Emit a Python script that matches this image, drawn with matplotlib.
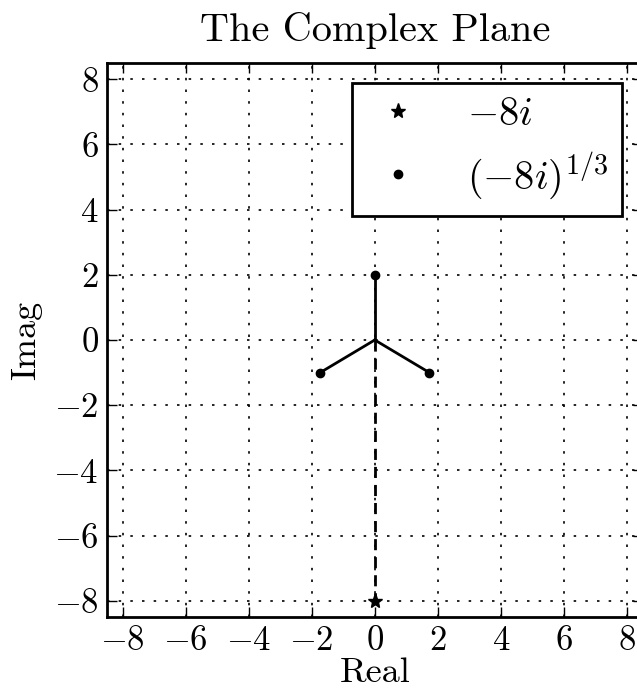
import numpy as np
import matplotlib
matplotlib.use('Agg')
import matplotlib.pyplot as plt

# data
z = -8j
roots_re = [0.0, -np.sqrt(3), np.sqrt(3)]
roots_im = [2.0, -1.0, -1.0]
ticks = [-8, -6, -4, -2, 0, 2, 4, 6, 8]

plt.rcParams['font.family'] = 'serif'
plt.rcParams['font.serif'] = ['cmr10']
plt.rcParams['mathtext.fontset'] = 'cm'
plt.rcParams['axes.formatter.use_mathtext'] = True
plt.rcParams['axes.unicode_minus'] = True

fig = plt.figure(figsize=(6.37, 6.92), dpi=100)
ax = fig.add_axes([0.168, 0.1084, 0.8407, 0.8006])

# lines from origin to each root
for xr, yr in zip(roots_re, roots_im):
    ax.plot([0, xr], [0, yr], color='k', lw=2, zorder=3)
ax.plot([0, z.real], [0, z.imag], color='k', lw=2, ls=(0, (4, 2.5)), zorder=3)

ax.plot([z.real], [z.imag], '*', color='k', ms=11, label=r'$-8i$', zorder=4)
ax.plot(roots_re, roots_im, 'o', color='k', ms=6, label=r'$(-8i)^{1/3}$', zorder=4)

ax.set_xlim(-8.5, 8.5)
ax.set_ylim(-8.5, 8.5)
ax.set_xticks(ticks)
ax.set_yticks(ticks)
ax.grid(True, color='k', ls=(0, (1.5, 5.5)), lw=1.2)
ax.tick_params(direction='in', top=True, right=True, length=7, width=1,
               labelsize=25, pad=6)
for s in ax.spines.values():
    s.set_linewidth(2)

ax.set_title('The Complex Plane', fontsize=29, pad=16)
ax.set_xlabel('Real', fontsize=26, labelpad=0)
ax.set_ylabel('Imag', fontsize=26, labelpad=8)

leg = ax.legend(loc='upper right', numpoints=1, fontsize=29, fancybox=False,
                framealpha=1, edgecolor='k', borderaxespad=0.5,
                handlelength=1.6, handletextpad=0.9, borderpad=0.35,
                labelspacing=0.4)
leg.get_frame().set_linewidth(2)

fig.savefig('out.png', dpi=100)
